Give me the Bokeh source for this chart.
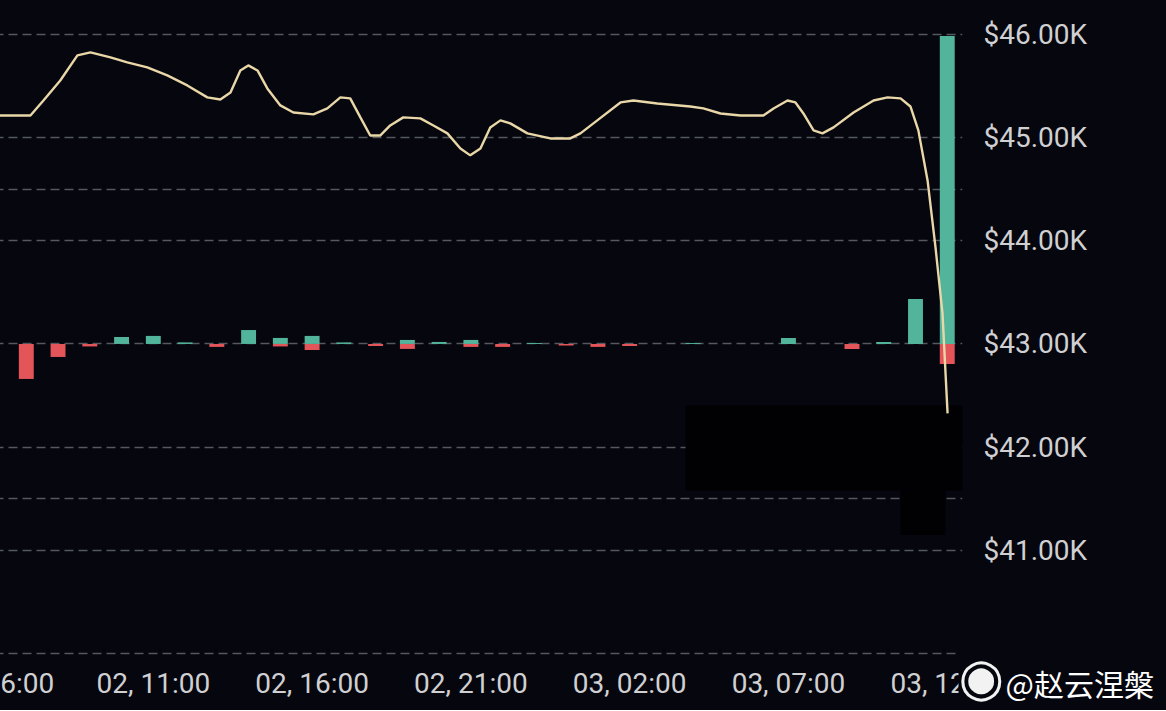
from bokeh.plotting import figure
from bokeh.models import Range1d, FixedTicker, Grid, BoxAnnotation, Title
from bokeh.embed import file_html
from bokeh.resources import INLINE

# ---------------- data ----------------
x_tick_hours = [6, 11, 16, 21, 26, 31, 36]
x_tick_labels = ["02, 06:00", "02, 11:00", "02, 16:00", "02, 21:00",
                 "03, 02:00", "03, 07:00", "03, 12:00"]

y_tick_values = [41000, 42000, 43000, 44000, 45000, 46000]
y_tick_labels = ["$41.00K", "$42.00K", "$43.00K", "$44.00K", "$45.00K", "$46.00K"]
price_grid_values = [40000, 41000, 42000, 43000, 44000, 45000, 46000]
flow_grid_values = [-1, 1]

# hours since 02 00:00
price_hours = [6.0, 7.13, 7.54, 8.07, 8.61, 9.02, 9.65, 10.18, 10.81, 11.44,
               12.07, 12.70, 13.11, 13.43, 13.74, 13.99, 14.28, 14.59, 15.00, 15.41,
               16.04, 16.48, 16.89, 17.20, 17.52, 17.83, 18.15, 18.46, 18.87, 19.41,
               19.82, 20.26, 20.67, 20.98, 21.30, 21.61, 21.93, 22.24, 22.78, 23.50,
               24.13, 24.45, 24.98, 25.71, 26.12, 26.87, 27.91, 28.32, 28.86, 29.49,
               30.21, 30.53, 30.97, 31.22, 31.47, 31.79, 32.07, 32.42, 33.05, 33.68,
               34.12, 34.53, 34.84, 35.09, 35.38, 35.63, 35.85, 36.01]
price_values = [45215, 45215, 45360, 45554, 45797, 45826, 45777, 45729, 45680, 45603,
                45506, 45390, 45370, 45438, 45651, 45700, 45651, 45477, 45312, 45244,
                45225, 45283, 45390, 45380, 45196, 45021, 45021, 45118, 45196, 45186,
                45118, 45041, 44895, 44828, 44895, 45099, 45167, 45138, 45041, 44992,
                44992, 45041, 45167, 45341, 45360, 45331, 45302, 45283, 45234, 45215,
                45215, 45283, 45360, 45341, 45234, 45070, 45041, 45099, 45244, 45360,
                45390, 45380, 45302, 45070, 44585, 43936, 43297, 42327]

bar_hours = list(range(7, 37))
inflow = [0, 0, 0, 0.045, 0.052, 0.010, 0, 0.090, 0.039, 0.052,
          0.010, 0, 0.026, 0.013, 0.026, 0, 0.006, 0, 0, 0,
          0, 0.006, 0, 0, 0.039, 0, 0, 0.013, 0.290, 1.990]
outflow = [-0.226, -0.084, -0.016, 0, 0, 0, -0.019, 0, -0.016, -0.039,
           0, -0.013, -0.032, 0, -0.019, -0.019, 0, -0.010, -0.019, -0.013,
           0, 0, 0, 0, 0, 0, -0.032, 0, 0, -0.130]

watermark = "@赵云涅槃"
watermark_logo = "◉"

# ---------------- styling ----------------
BG = "#05060e"
GRID = "#55585e"
TXT = "#d0d0d2"
LINE = "#e9d7a8"
GREEN = "#52b49b"
RED = "#e4555a"
BLOT = "#010103"

p_lo, p_hi = 39932, 46329
flow_base, flow_step = 43000, 1500

p = figure(width=1226, height=710, output_backend="svg", toolbar_location=None,
           x_range=Range1d(5.999, 36.48), y_range=Range1d(p_lo, p_hi),
           y_axis_location="right",
           min_border_left=54, min_border_top=0, min_border_right=204,
           min_border_bottom=50,
           background_fill_color=BG, border_fill_color=BG,
           outline_line_color=None, outline_line_alpha=0,
           styles={"margin-left": "-60px", "background-color": BG})

p.extra_y_ranges = {"flow": Range1d((p_lo - flow_base) / flow_step,
                                    (p_hi - flow_base) / flow_step)}

# grids
p.xgrid.visible = False
p.ygrid.ticker = FixedTicker(ticks=price_grid_values)
p.ygrid.grid_line_color = GRID
p.ygrid.grid_line_dash = "9 5"
p.ygrid.grid_line_width = 1.4
fgrid = Grid(dimension=1, ticker=FixedTicker(ticks=flow_grid_values),
             y_range_name="flow", grid_line_color=GRID,
             grid_line_dash="9 5", grid_line_width=1.4)
p.add_layout(fgrid)

# obscured patch (drawn above the grid, below the data)
p.add_layout(BoxAnnotation(left=27.76, right=36.9, bottom=41580, top=42400,
                           fill_color=BLOT, fill_alpha=1, line_color=None,
                           level="underlay"))
p.add_layout(BoxAnnotation(left=34.53, right=35.94, bottom=41150, top=41580,
                           fill_color=BLOT, fill_alpha=1, line_color=None,
                           level="underlay"))

# axes
p.xaxis.ticker = FixedTicker(ticks=x_tick_hours)
p.xaxis.major_label_overrides = {h: l for h, l in zip(x_tick_hours, x_tick_labels)}
p.yaxis.ticker = FixedTicker(ticks=y_tick_values)
p.yaxis.major_label_overrides = {v: l for v, l in zip(y_tick_values, y_tick_labels)}
p.axis.axis_line_color = None
p.axis.major_tick_line_color = None
p.axis.minor_tick_line_color = None
p.axis.major_tick_out = 0
p.axis.major_tick_in = 0
p.axis.minor_tick_out = 0
p.axis.major_label_text_color = TXT
p.axis.major_label_text_font = "Roboto"
p.xaxis.major_label_text_font_size = "28px"
p.xaxis.major_label_standoff = 6
p.yaxis.major_label_text_font_size = "28px"
p.yaxis.major_label_standoff = 21

# bars
p.vbar(x=bar_hours, top=inflow, bottom=0, width=0.47, y_range_name="flow",
       fill_color=GREEN, line_color=None)
p.vbar(x=bar_hours, top=0, bottom=outflow, width=0.47, y_range_name="flow",
       fill_color=RED, line_color=None)

# price line
p.line(price_hours, price_values, line_color=LINE, line_width=2.4)

# watermark
wm = Title(text=watermark, align="left", vertical_align="top",
           offset=1011, standoff=-84,
           text_font="Noto Sans CJK SC", text_font_size="30px",
           text_font_style="normal", text_color="#ffffff")
p.add_layout(wm, "below")
logo = Title(text=watermark_logo, align="left", vertical_align="top",
             offset=964, standoff=-111,
             text_font="DejaVu Sans", text_font_size="52px",
             text_font_style="normal", text_color="#f2f2f2",
             background_fill_color=BG)
p.add_layout(logo, "below")

open("out.html", "w").write(file_html(p, INLINE))
